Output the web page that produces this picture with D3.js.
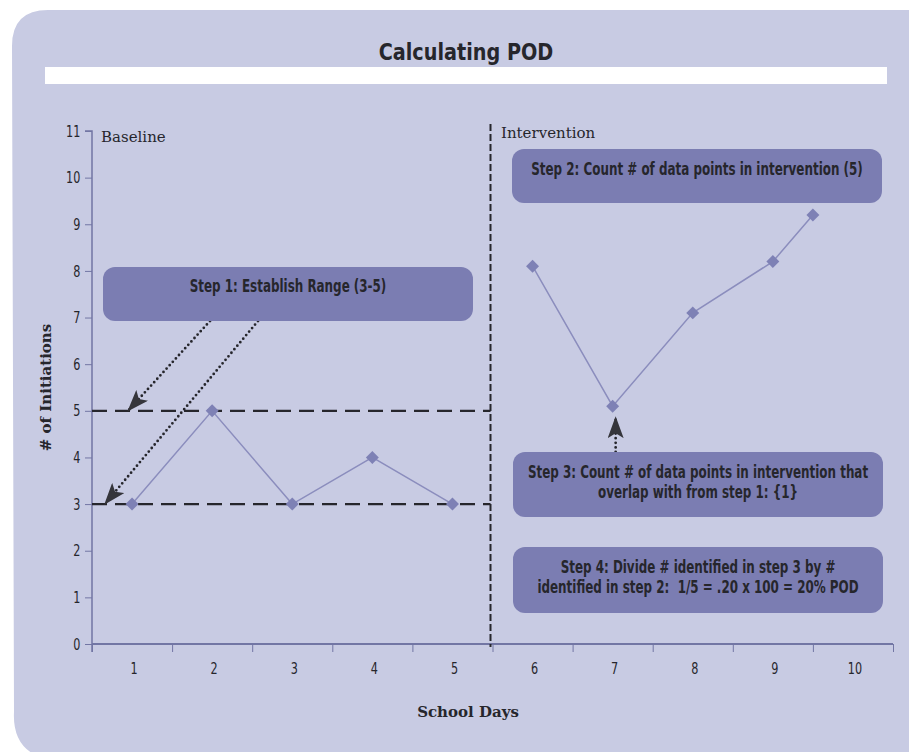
<!DOCTYPE html>
<html lang="en">
<head>
<meta charset="UTF-8">
<title>Calculating POD</title>
<script src="https://d3js.org/d3.v7.min.js"></script>
<style>
  body { margin: 0; background: #fff; }
  .cond { font-family: "Liberation Sans Narrow", "DejaVu Sans Condensed", sans-serif; }
  .slab { font-family: "DejaVu Serif", "Liberation Serif", serif; }
</style>
</head>
<body>
<svg id="chart" width="909" height="752"></svg>
<script>
// data
const dayLabels = [1, 2, 3, 4, 5, 6, 7, 8, 9, 10];
const baselineDays = [1, 2, 3, 4, 5];
const baselineValues = [3, 5, 3, 4, 3];
const interventionDays = [6, 7, 8, 9, 9.5];
const interventionValues = [8.1, 5.1, 7.1, 8.2, 9.2];
const yTicks = [0, 1, 2, 3, 4, 5, 6, 7, 8, 9, 10, 11];
const rangeLow = 3, rangeHigh = 5;
const phaseChange = 5.5;

const svg = d3.select("#chart");
const bg = "#c8cbe3", ink = "#26262c", axisCol = "#7276a4";
const boxFill = "#7b7db2", lineCol = "#8b8dbd", markCol = "#7e81b5";
const squeeze = 0.78; // narrow the condensed face a bit more

// panel with rounded left corners
svg.append("path")
  .attr("d", "M12,46 Q12,10 48,10 L915,10 L915,760 L50,760 Q12,752 14,712 Z")
  .attr("fill", bg);

svg.append("text").attr("class", "cond")
  .attr("transform", "translate(466,60) scale(0.93,1)")
  .attr("text-anchor", "middle")
  .attr("font-size", 23).attr("font-weight", "bold").attr("fill", ink)
  .text("Calculating POD");

svg.append("rect").attr("x", 45).attr("y", 67).attr("width", 842).attr("height", 17).attr("fill", "#fff");

const x = d3.scaleLinear().domain([0.5, 10.5]).range([92, 893]);
const y = d3.scaleLinear().domain([0, 11]).range([644, 131]);

// y axis
const gy = svg.append("g").attr("transform", "translate(92,0)")
  .call(d3.axisLeft(y).tickValues(yTicks).tickSize(7).tickPadding(8));
gy.select(".domain").attr("stroke", axisCol).attr("stroke-width", 1.5)
  .attr("d", "M-7," + y(11) + "H0V" + (y(0) + 8));
gy.selectAll(".tick line").attr("stroke", axisCol);
gy.selectAll(".tick text").attr("class", "cond").attr("font-size", 16).attr("fill", ink)
  .attr("transform", "scale(" + squeeze + ",1)");

// x axis: ticks on band boundaries, labels in the middle
const gx = svg.append("g").attr("transform", "translate(0," + y(0) + ")")
  .call(d3.axisBottom(x).tickValues(d3.range(0.5, 11, 1)).tickSize(8).tickFormat(""));
gx.select(".domain").attr("stroke", axisCol).attr("stroke-width", 2).attr("d", "M92,0H893");
gx.selectAll(".tick line").attr("stroke", axisCol);

svg.append("g").selectAll("text").data(dayLabels).join("text")
  .attr("class", "cond")
  .attr("transform", d => "translate(" + (x(d) + 2) + ",674) scale(" + squeeze + ",1)")
  .attr("text-anchor", "middle").attr("font-size", 16).attr("fill", ink)
  .text(d => d);

svg.append("text").attr("class", "slab")
  .attr("x", 468).attr("y", 717).attr("text-anchor", "middle")
  .attr("font-size", 15).attr("font-weight", "bold").attr("fill", ink)
  .text("School Days");

svg.append("text").attr("class", "slab")
  .attr("transform", "translate(51," + y(5.5) + ") rotate(-90)")
  .attr("text-anchor", "middle")
  .attr("font-size", 15).attr("font-weight", "bold").attr("fill", ink)
  .text("# of Initiations");

// phase labels
svg.append("text").attr("class", "slab").attr("x", 101).attr("y", 142)
  .attr("font-size", 15).attr("fill", ink).text("Baseline");
svg.append("text").attr("class", "slab").attr("x", 501).attr("y", 138)
  .attr("font-size", 15).attr("fill", ink).text("Intervention");

// phase change line
svg.append("line")
  .attr("x1", x(phaseChange) - 2).attr("x2", x(phaseChange) - 2)
  .attr("y1", y(11.15)).attr("y2", y(0) + 3)
  .attr("stroke", ink).attr("stroke-width", 2).attr("stroke-dasharray", "7,3");

// range lines
svg.append("g").selectAll("line").data([rangeLow, rangeHigh]).join("line")
  .attr("x1", x(0.5)).attr("x2", x(phaseChange) - 2)
  .attr("y1", d => y(d)).attr("y2", d => y(d))
  .attr("stroke", ink).attr("stroke-width", 2.2).attr("stroke-dasharray", "15,8");

// data lines + diamonds
const line = d3.line().x(d => x(d[0])).y(d => y(d[1]));
const phases = [d3.zip(baselineDays, baselineValues), d3.zip(interventionDays, interventionValues)];
phases.forEach(pts => {
  svg.append("path").datum(pts).attr("d", line)
    .attr("fill", "none").attr("stroke", lineCol).attr("stroke-width", 1.5);
  svg.append("g").selectAll("path").data(pts).join("path")
    .attr("d", d3.symbol(d3.symbolSquare, 84))
    .attr("transform", d => "translate(" + x(d[0]) + "," + y(d[1]) + ") rotate(45)")
    .attr("fill", markCol);
});

// arrowhead marker
svg.append("defs").append("marker")
  .attr("id", "head").attr("viewBox", "0 0 22 16")
  .attr("refX", 21).attr("refY", 8)
  .attr("markerWidth", 22).attr("markerHeight", 16)
  .attr("markerUnits", "userSpaceOnUse").attr("orient", "auto")
  .append("path").attr("d", "M0,0 L22,8 L0,16 L5,8 Z").attr("fill", "#35353b");

const arrows = [
  [210, 321, x(0.95), y(rangeHigh)],
  [258, 321, x(0.66), y(rangeLow)],
  [x(7) + 3, 452, x(7) + 3, y(5.1) + 11]
];
svg.append("g").selectAll("line").data(arrows).join("line")
  .attr("x1", d => d[0]).attr("y1", d => d[1])
  .attr("x2", d => d[2]).attr("y2", d => d[3])
  .attr("stroke", ink).attr("stroke-width", 2.8)
  .attr("stroke-linecap", "round").attr("stroke-dasharray", "0,4.6")
  .attr("marker-end", "url(#head)");

// step boxes
const boxes = [
  { x: 103, y: 267, w: 370, h: 54, lines: ["Step 1: Establish Range (3-5)"], ty: 292 },
  { x: 512, y: 149, w: 370, h: 54, lines: ["Step 2: Count # of data points in intervention (5)"], ty: 175 },
  { x: 513, y: 452, w: 370, h: 65, lines: ["Step 3: Count # of data points in intervention that", "overlap with from step 1: {1}"], ty: 478 },
  { x: 513, y: 547, w: 370, h: 66, lines: ["Step 4: Divide # identified in step 3 by #", "identified in step 2:  1/5 = .20 x 100 = 20% POD"], ty: 573 }
];
const bx = svg.append("g").selectAll("g").data(boxes).join("g");
bx.append("rect")
  .attr("x", d => d.x).attr("y", d => d.y).attr("width", d => d.w).attr("height", d => d.h)
  .attr("rx", 12).attr("fill", boxFill);
bx.each(function(d) {
  const t = d3.select(this).append("text").attr("class", "cond")
    .attr("transform", "translate(" + (d.x + d.w / 2) + ",0) scale(" + squeeze + ",1)")
    .attr("text-anchor", "middle").attr("font-size", 17).attr("font-weight", "bold")
    .attr("fill", ink).attr("xml:space", "preserve");
  d.lines.forEach((s, i) => {
    t.append("tspan").attr("x", 0).attr("y", d.ty + i * 20).text(s);
  });
});
</script>
</body>
</html>
